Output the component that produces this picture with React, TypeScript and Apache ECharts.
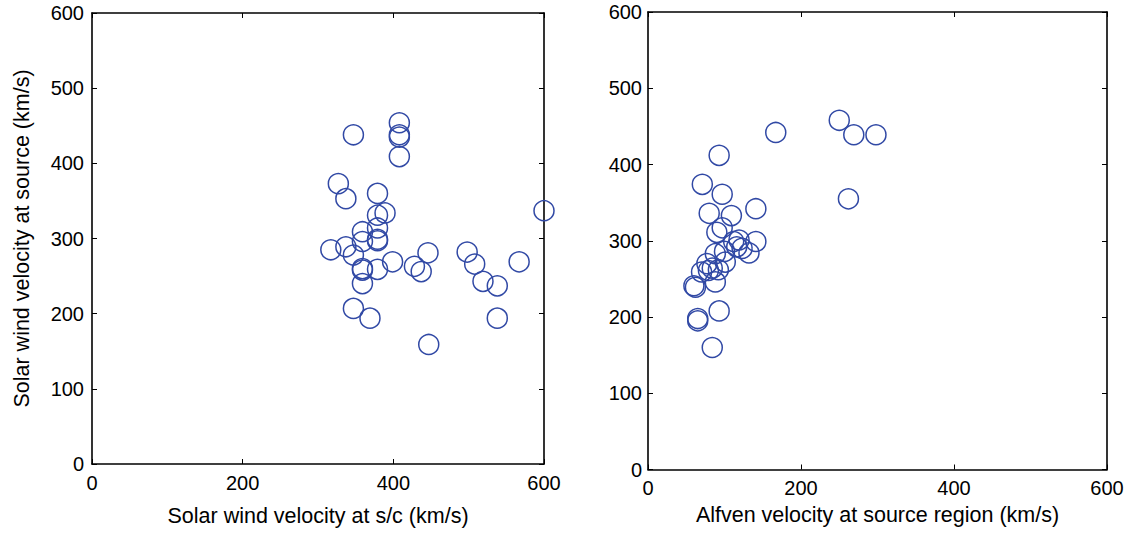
import React, { useEffect, useRef } from "react";
import * as echarts from "echarts";

// Left panel: solar wind velocity at s/c vs at source (km/s)
const leftX = [408, 408, 408, 347, 408, 327, 337, 379, 389, 379, 379, 359, 379, 379, 359, 317, 337, 347, 446, 399, 359, 359, 379, 428, 437, 359, 498, 508, 519, 538, 567, 600, 347, 369, 538, 447];
const leftY = [454, 438, 435, 438, 409, 373, 353, 360, 334, 331, 314, 309, 299, 297, 296, 285, 289, 278, 281, 269, 260, 258, 259, 263, 256, 240, 282, 266, 243, 237, 269, 337, 207, 194, 194, 159];

// Right panel: Alfven velocity at source region vs solar wind velocity at source (km/s)
const rightX = [250, 269, 298, 167, 93, 71, 97, 262, 141, 80, 109, 97, 90, 141, 119, 112, 116, 132, 123, 100, 88, 101, 77, 84, 92, 70, 79, 88, 60, 62, 93, 65, 65, 84];
const rightY = [458, 439, 439, 442, 412, 374, 361, 355, 342, 336, 333, 317, 311, 299, 301, 299, 292, 284, 290, 286, 283, 272, 270, 264, 262, 259, 261, 246, 241, 239, 208, 198, 195, 160];

const xTicks = [0, 200, 400, 600];
const yTicks = [0, 100, 200, 300, 400, 500, 600];

const leftXName = "Solar wind velocity at s/c (km/s)";
const leftYName = "Solar wind velocity at source (km/s)";
const rightXName = "Alfven velocity at source region (km/s)";

const FONT = "Liberation Sans, Arial, Helvetica, sans-serif";
const MARK = "#3149A5";

export default function App() {
  const ref = useRef<HTMLDivElement>(null);
  useEffect(() => {
    if (!ref.current) return;
    const chart = echarts.init(ref.current, null, { renderer: "svg" });
    const line = { show: true, onZero: false, lineStyle: { color: "#000", width: 1.6 } };
    const tick = { show: true, inside: true, length: 5, lineStyle: { color: "#000", width: 1 } };
    const label = { color: "#000", fontSize: 20, fontFamily: FONT };
    const xMin = xTicks[0], xMax = xTicks[xTicks.length - 1];
    const yMin = yTicks[0], yMax = yTicks[yTicks.length - 1];
    const xInt = xTicks[1] - xTicks[0];
    const yInt = yTicks[1] - yTicks[0];
    const nameStyle = { color: "#000", fontSize: 21.5, fontFamily: FONT };

    const mkX = (grid: number, pos: string, name: string | null, gap: number, margin: number) => ({
      gridIndex: grid, type: "value", position: pos, min: xMin, max: xMax, interval: xInt,
      name: name || "", nameLocation: "middle", nameGap: gap, nameTextStyle: nameStyle,
      axisLine: line, axisTick: tick,
      axisLabel: { ...label, show: !!name, margin },
      splitLine: { show: false },
    });
    const mkY = (grid: number, pos: string, name: string | null, showLabel: boolean, gap: number, margin: number) => ({
      gridIndex: grid, type: "value", position: pos, min: yMin, max: yMax, interval: yInt,
      name: name || "", nameLocation: "middle", nameGap: gap, nameTextStyle: nameStyle,
      axisLine: line, axisTick: tick,
      axisLabel: { ...label, show: showLabel, margin },
      splitLine: { show: false },
    });

    const scatterStyle = {
      symbol: "circle", symbolSize: 20, clip: false,
      itemStyle: { color: "rgba(0,0,0,0)", borderColor: MARK, borderWidth: 1.5, opacity: 1 },
    };

    const option = {
      animation: false,
      backgroundColor: "#fff",
      grid: [
        { left: 92, top: 13, width: 452, height: 451 },
        { left: 648, top: 12, width: 459, height: 457.5 },
      ],
      xAxis: [
        mkX(0, "bottom", leftXName, 41, 9),
        mkX(0, "top", null, 0, 8),
        mkX(1, "bottom", rightXName, 34, 8),
        mkX(1, "top", null, 0, 8),
      ],
      yAxis: [
        mkY(0, "left", leftYName, true, 59, 8),
        mkY(0, "right", null, false, 0, 8),
        mkY(1, "left", null, true, 0, 6),
        mkY(1, "right", null, false, 0, 8),
      ],
      series: [
        { type: "scatter", xAxisIndex: 0, yAxisIndex: 0, ...scatterStyle, data: leftX.map((x, i) => [x, leftY[i]]) },
        { type: "scatter", xAxisIndex: 2, yAxisIndex: 2, ...scatterStyle, data: rightX.map((x, i) => [x, rightY[i]]) },
      ],
    };
    chart.setOption(option as any);
    return () => chart.dispose();
  }, []);
  return (
    <div
      ref={ref}
      style={{ position: "fixed", left: 0, top: 0, width: 1128, height: 537, background: "#fff" }}
    />
  );
}
